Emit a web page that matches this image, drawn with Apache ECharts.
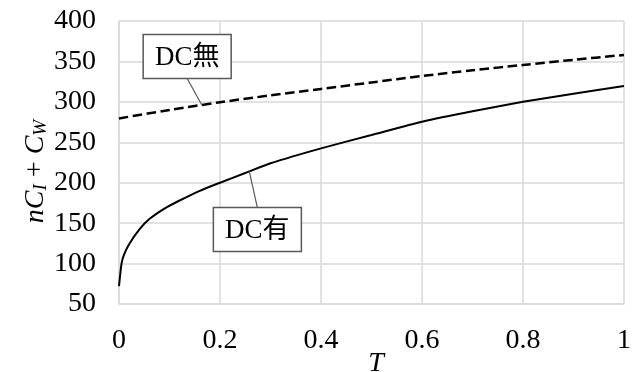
<!DOCTYPE html>
<html>
<head>
<meta charset="utf-8">
<script src="https://cdn.jsdelivr.net/npm/echarts@6/dist/echarts.min.js"></script>
<style>
  html, body { margin: 0; padding: 0; background: #fff; }
  #chart { width: 639px; height: 372px; }
</style>
</head>
<body>
<div id="chart"></div>
<script>
// Cost nC_I + C_W against T, with and without DC
const tNoDc = [0, 0.1, 0.2, 0.3, 0.4, 0.5, 0.6, 0.7, 0.8, 0.9, 1.0];
const costNoDc = [279.5, 290, 299.5, 308, 316, 324, 332, 339, 345.6, 352, 358];

const tDc = [0, 0.005, 0.01, 0.02, 0.04, 0.06, 0.09, 0.12, 0.16, 0.2, 0.25, 0.3, 0.4, 0.5, 0.6, 0.7, 0.8, 0.9, 1.0];
const costDc = [72, 100, 111, 124, 142, 155, 168, 178, 190, 200, 212, 224, 242.5, 259, 275.5, 288.5, 300, 310, 319.5];

const xTicks = [0, 0.2, 0.4, 0.6, 0.8, 1];
const yTicks = [50, 100, 150, 200, 250, 300, 350, 400];

// Callouts: text, which series, where the leader touches the line (T), box centre (T, value)
const calloutText = ['DC無', 'DC有'];
const calloutSeries = [0, 1];
const calloutAnchorT = [0.164, 0.258];
const calloutBoxT = [0.135, 0.274];
const calloutBoxV = [356, 142];

const FONT = '"Liberation Serif", "Times New Roman", "Noto Sans CJK JP", serif';
const GRID = '#d9d9d9';

const pairs = (xs, ys) => xs.map((x, i) => [x, ys[i]]);

const chart = echarts.init(document.getElementById('chart'), null, { renderer: 'canvas' });

const option = {
  animation: false,
  backgroundColor: '#fff',
  grid: { left: 119, right: 15, top: 21, bottom: 68, containLabel: false, outerBoundsMode: 'none' },
  xAxis: {
    type: 'value',
    min: xTicks[0],
    max: xTicks[xTicks.length - 1],
    interval: xTicks[1] - xTicks[0],
    name: 'T',
    nameLocation: 'middle',
    nameGap: 46,
    nameMoveOverlap: false,
    nameTextStyle: { fontFamily: FONT, fontSize: 28, fontStyle: 'italic', color: '#000', padding: [0, 0, 0, 9] },
    axisLine: { show: true, lineStyle: { color: GRID, width: 1.5 } },
    axisTick: { show: false },
    axisLabel: { fontFamily: FONT, fontSize: 28, color: '#000', margin: 23 },
    splitLine: { show: true, lineStyle: { color: GRID, width: 1.5 } }
  },
  yAxis: {
    type: 'value',
    min: yTicks[0],
    max: yTicks[yTicks.length - 1],
    interval: yTicks[1] - yTicks[0],
    name: '{i|nC}{s|I}{u| + }{i|C}{s|W}',
    nameLocation: 'middle',
    nameGap: 68,
    nameRotate: 90,
    nameMoveOverlap: false,
    nameTextStyle: {
      fontFamily: FONT, fontSize: 28, color: '#000',
      padding: [0, 18, 0, 0],
      rich: {
        i: { fontFamily: FONT, fontSize: 28, fontStyle: 'italic', color: '#000', lineHeight: 30, verticalAlign: 'middle' },
        u: { fontFamily: FONT, fontSize: 28, color: '#000', lineHeight: 30, verticalAlign: 'middle' },
        s: { fontFamily: FONT, fontSize: 19, fontStyle: 'italic', color: '#000', lineHeight: 19, verticalAlign: 'bottom' }
      }
    },
    axisLine: { show: true, lineStyle: { color: GRID, width: 1.5 } },
    axisTick: { show: false },
    axisLabel: { fontFamily: FONT, fontSize: 28, color: '#000', margin: 23 },
    splitLine: { show: true, lineStyle: { color: GRID, width: 1.5 } }
  },
  series: [
    {
      name: 'DC無',
      type: 'line',
      data: pairs(tNoDc, costNoDc),
      showSymbol: false,
      smooth: 0.3,
      lineStyle: { color: '#000', width: 2.5, type: [9.5, 4.5] }
    },
    {
      name: 'DC有',
      type: 'line',
      data: pairs(tDc, costDc),
      showSymbol: false,
      smooth: 0.2,
      lineStyle: { color: '#000', width: 2 }
    }
  ]
};

chart.setOption(option);

// Value of a series at T, read along its polyline
function valueAt(xs, ys, t) {
  for (let i = 1; i < xs.length; i++) {
    if (t <= xs[i]) {
      const f = (t - xs[i - 1]) / (xs[i] - xs[i - 1]);
      return ys[i - 1] + f * (ys[i] - ys[i - 1]);
    }
  }
  return ys[ys.length - 1];
}

const seriesXs = [tNoDc, tDc];
const seriesYs = [costNoDc, costDc];
const BOX_W = 88, BOX_H = 44;

const graphics = [];
calloutText.forEach((txt, k) => {
  const s = calloutSeries[k];
  const at = calloutAnchorT[k];
  const anchor = chart.convertToPixel({ gridIndex: 0 }, [at, valueAt(seriesXs[s], seriesYs[s], at)]);
  const centre = chart.convertToPixel({ gridIndex: 0 }, [calloutBoxT[k], calloutBoxV[k]]);
  const edgeY = anchor[1] > centre[1] ? centre[1] + BOX_H / 2 : centre[1] - BOX_H / 2;
  graphics.push({
    type: 'line',
    z: 10,
    shape: { x1: centre[0], y1: edgeY, x2: anchor[0], y2: anchor[1] },
    style: { stroke: '#595959', lineWidth: 1.2 }
  });
  graphics.push({
    type: 'rect',
    z: 11,
    shape: { x: centre[0] - BOX_W / 2, y: centre[1] - BOX_H / 2, width: BOX_W, height: BOX_H },
    style: { fill: '#fff', stroke: '#595959', lineWidth: 1.5 }
  });
  graphics.push({
    type: 'text',
    z: 12,
    x: centre[0],
    y: centre[1] + 1,
    style: {
      text: txt,
      font: '27px ' + FONT,
      fill: '#000',
      align: 'center',
      verticalAlign: 'middle'
    }
  });
});

chart.setOption({ graphic: graphics });
</script>
</body>
</html>
